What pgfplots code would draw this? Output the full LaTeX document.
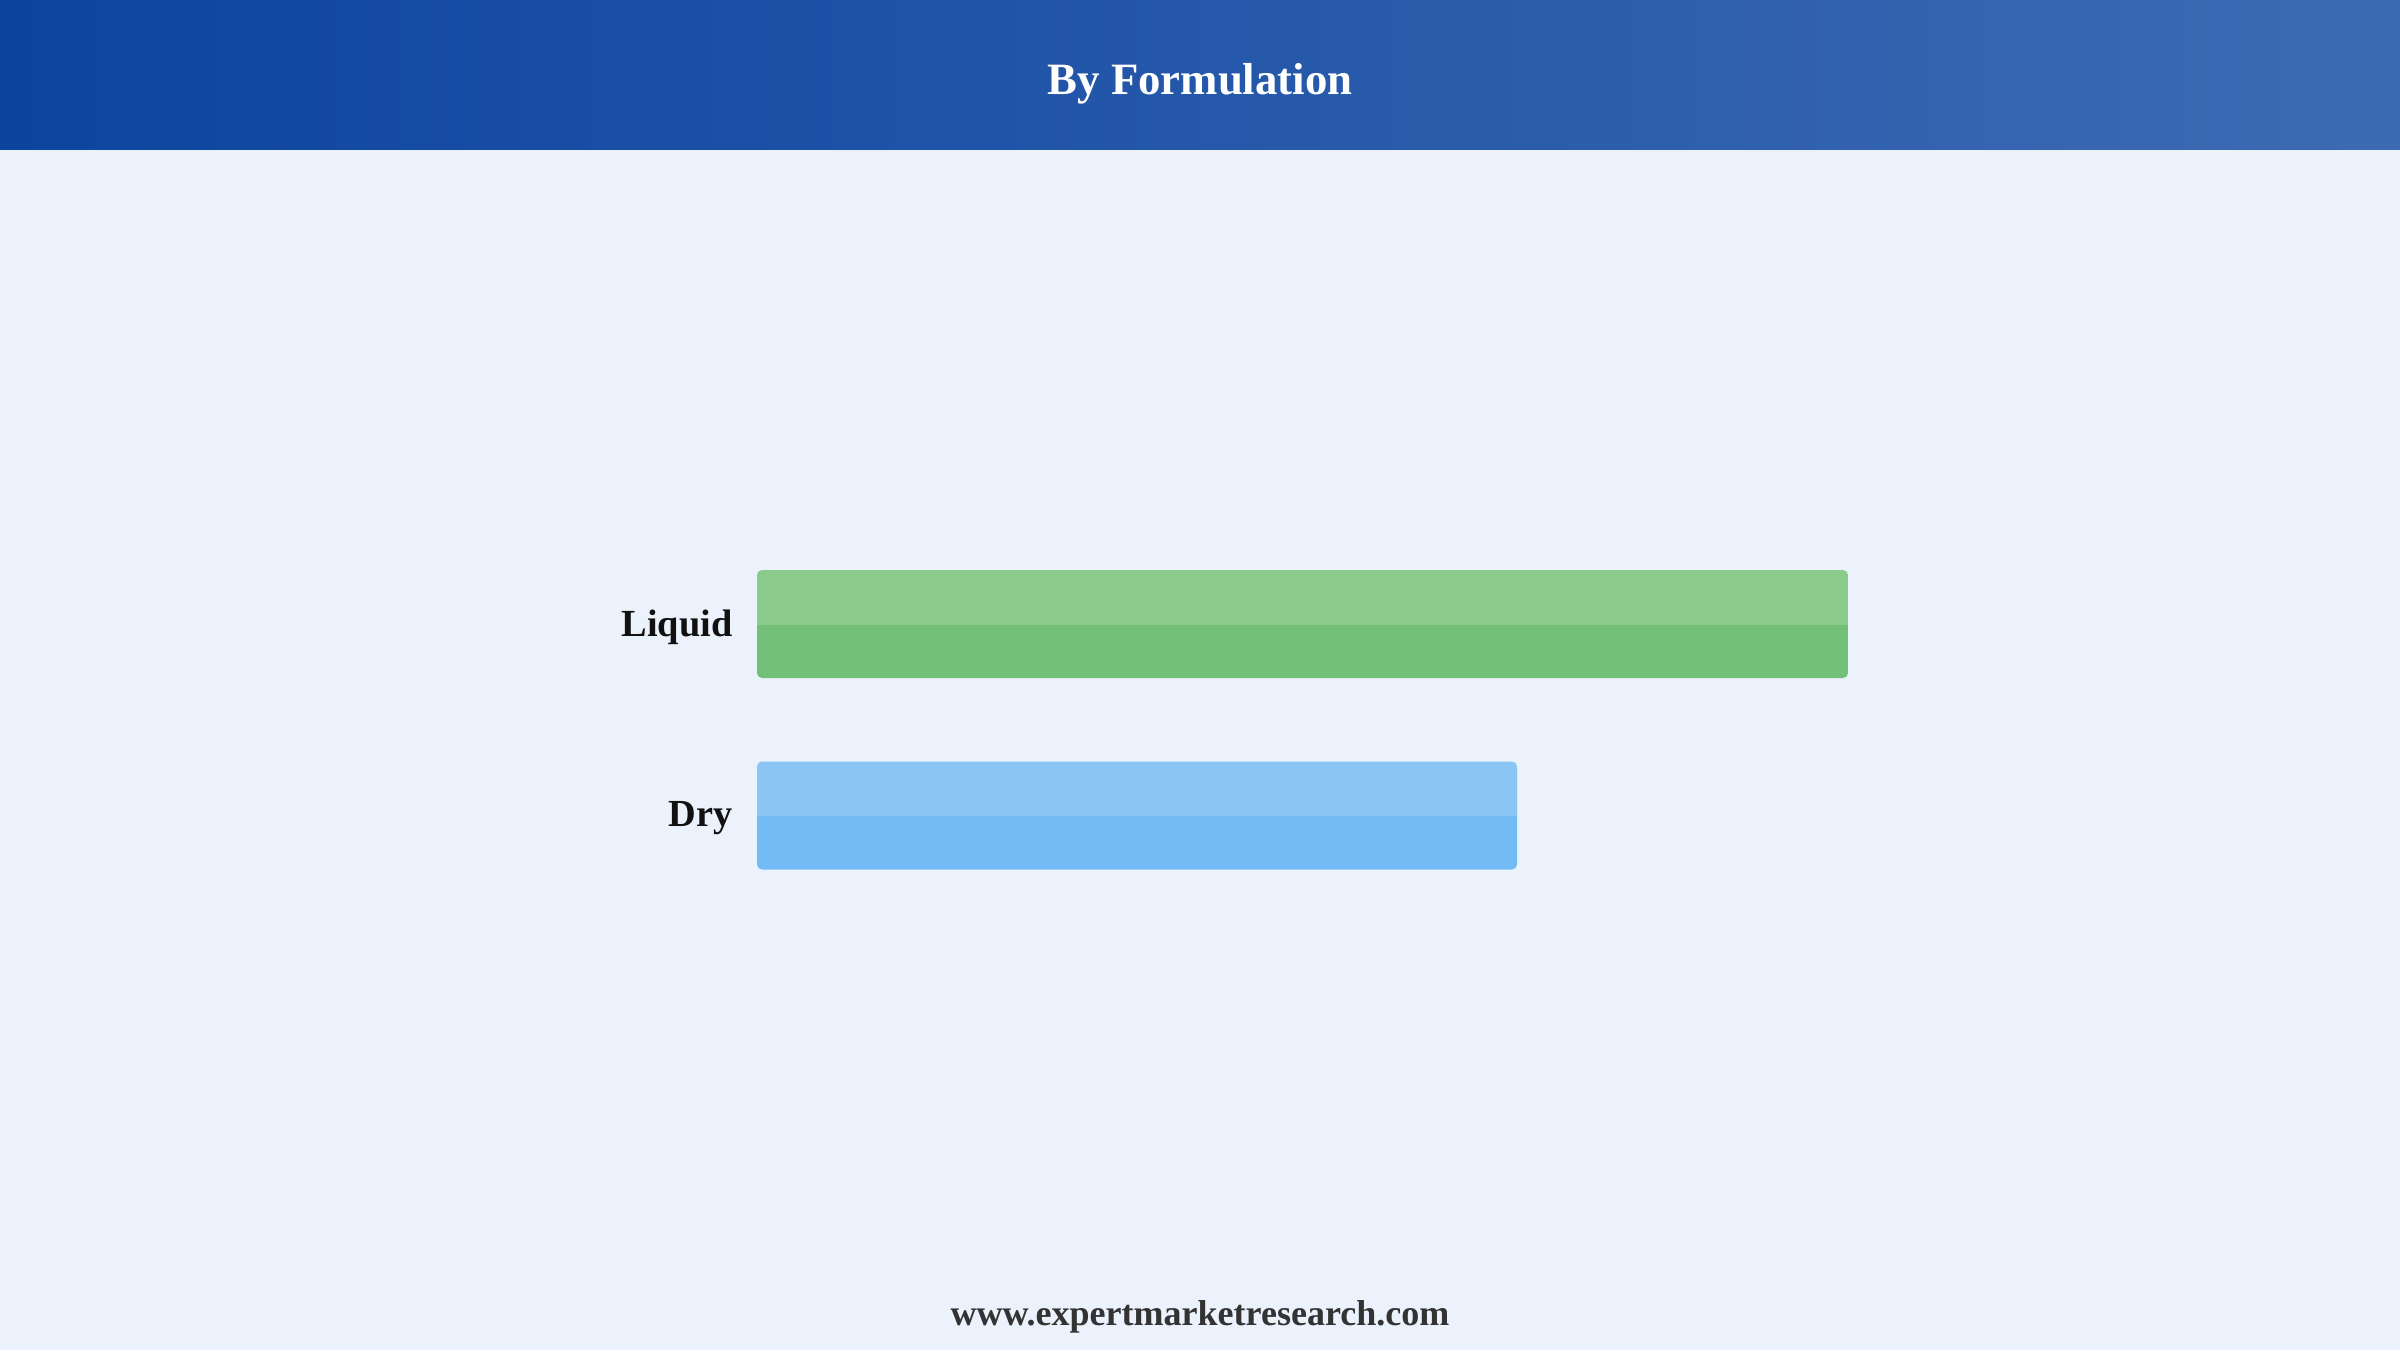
\documentclass[border=0pt]{standalone}
\usepackage{pgfplots}
\pgfplotsset{compat=1.18}
\usepackage{fontspec}
\setmainfont{Liberation Serif}
\definecolor{bgc}{HTML}{EBF2FC}
\definecolor{hdrL}{HTML}{0C44A0}
\definecolor{hdrR}{HTML}{3D6BB3}
\definecolor{gT}{HTML}{8ACB8C}
\definecolor{gB}{HTML}{73C178}
\definecolor{bT}{HTML}{8AC5F5}
\definecolor{bB}{HTML}{72BBF5}
\definecolor{lbl}{HTML}{111111}
\definecolor{foot}{HTML}{333333}
\pgfdeclareverticalshading{gshade}{100bp}{color(0bp)=(gB); color(49.9bp)=(gB); color(50bp)=(gT); color(100bp)=(gT)}
\pgfdeclareverticalshading{bshade}{100bp}{color(0bp)=(bB); color(49.9bp)=(bB); color(50bp)=(bT); color(100bp)=(bT)}
\begin{document}
\begin{tikzpicture}
\useasboundingbox (0,0) rectangle (24,13.5);
\fill[bgc] (0,0) rectangle (24,13.5);
\shade[left color=hdrL, right color=hdrR] (0,12) rectangle (24,13.5);
\node[font=\fontsize{12.75pt}{15pt}\selectfont\bfseries, text=white, anchor=base] at (12,12.55) {By Formulation};
\node[font=\fontsize{10.25pt}{12pt}\selectfont\bfseries, text=foot, anchor=base] at (12,0.25) {www.expertmarketresearch.com};
\begin{axis}[
  at={(7.57cm,4.3875cm)}, anchor=south west,
  scale only axis, width=10.91cm, height=3.83cm,
  xmin=0, xmax=59, ymin=-0.5, ymax=1.5,
  axis line style={draw=none}, tick style={draw=none},
  xtick=\empty, ytick={0,1}, yticklabels={Dry,Liquid},
  yticklabel style={font=\fontsize{10.9pt}{13pt}\selectfont\bfseries, text=lbl, inner sep=0pt, xshift=-0.09cm, yshift=-0.03cm},
  xbar, bar width=1.08cm,
]
\addplot[xbar, bar shift=0pt, draw=none, shading=gshade, rounded corners=0.05cm] coordinates {(59,1)};
\addplot[xbar, bar shift=0pt, draw=none, shading=bshade, rounded corners=0.05cm] coordinates {(41.1,0)};
\end{axis}
\end{tikzpicture}
\end{document}
